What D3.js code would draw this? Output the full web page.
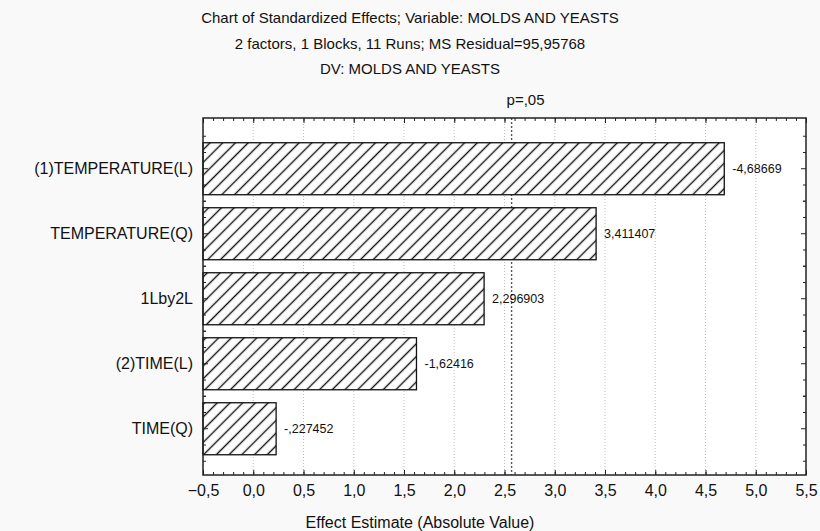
<!DOCTYPE html>
<html lang="en">
<head>
    <meta charset="UTF-8">
    <title>Chart of Standardized Effects</title>
    <style>
        body {
            margin: 0;
            padding: 0;
            background: #f9f9f9;
            font-family: "Liberation Sans", Arial, sans-serif;
        }
        svg { display: block; }
        .axis text { font-family: "Liberation Sans", Arial, sans-serif; fill: #111; }
        .axis path { display: none; }
        .axis line { stroke: #222; }
    </style>
</head>
<body>
    <div id="chart"></div>

    <script src="https://d3js.org/d3.v7.min.js"></script>
    <script>
        // Datos del grafico de Pareto
        const titleLines = [
            "Chart of Standardized Effects; Variable: MOLDS AND YEASTS",
            "2 factors, 1 Blocks, 11 Runs; MS Residual=95,95768",
            "DV: MOLDS AND YEASTS"
        ];
        const factors = ["(1)TEMPERATURE(L)", "TEMPERATURE(Q)", "1Lby2L", "(2)TIME(L)", "TIME(Q)"];
        const effects = [-4.68669, 3.411407, 2.296903, -1.62416, -0.227452];
        const effectLabels = ["-4,68669", "3,411407", "2,296903", "-1,62416", "-,227452"];
        const xTicks = [-0.5, 0, 0.5, 1, 1.5, 2, 2.5, 3, 3.5, 4, 4.5, 5, 5.5];
        const pCrit = 2.570582;
        const pLabel = "p=,05";
        const xTitle = "Effect Estimate (Absolute Value)";

        const W = 820, H = 531;
        const margin = { top: 118, right: 14, bottom: 56, left: 203 };
        const width = W - margin.left - margin.right;
        const height = H - margin.top - margin.bottom;

        const svg = d3.select("#chart")
            .append("svg")
            .attr("width", W)
            .attr("height", H);

        // hatch pattern
        svg.append("defs").append("pattern")
            .attr("id", "hatch")
            .attr("patternUnits", "userSpaceOnUse")
            .attr("width", 9)
            .attr("height", 9)
            .attr("patternTransform", "rotate(45)")
            .call(p => {
                p.append("rect").attr("width", 9).attr("height", 9).attr("fill", "#fff");
                p.append("line")
                    .attr("x1", 4.5).attr("y1", 0).attr("x2", 4.5).attr("y2", 9)
                    .attr("stroke", "#111").attr("stroke-width", 1.4);
            });

        // titulos
        svg.selectAll(".title")
            .data(titleLines)
            .enter()
            .append("text")
            .attr("class", "title")
            .attr("x", W / 2)
            .attr("y", (d, i) => 23 + i * 25.5)
            .attr("text-anchor", "middle")
            .style("font-size", "15px")
            .style("fill", "#111")
            .text(d => d);

        const g = svg.append("g")
            .attr("transform", `translate(${margin.left}, ${margin.top})`);

        const x = d3.scaleLinear()
            .domain([-0.5, 5.5])
            .range([0, width]);

        const y = d3.scaleBand()
            .domain(factors)
            .range([0, height])
            .paddingInner(0.2)
            .paddingOuter(0.346)
            .align(0.55);

        g.append("rect")
            .attr("width", width)
            .attr("height", height)
            .attr("fill", "#fff");

        // grid
        g.selectAll(".grid")
            .data(xTicks.slice(1, -1))
            .enter()
            .append("line")
            .attr("class", "grid")
            .attr("x1", d => x(d)).attr("x2", d => x(d))
            .attr("y1", 0).attr("y2", height)
            .attr("stroke", "#bdbdbd")
            .attr("stroke-dasharray", "1,2");

        // p line
        g.append("line")
            .attr("x1", x(pCrit)).attr("x2", x(pCrit))
            .attr("y1", 0).attr("y2", height)
            .attr("stroke", "#555")
            .attr("stroke-width", 1.4)
            .attr("stroke-dasharray", "2,2");

        svg.append("text")
            .attr("x", margin.left + x(pCrit) + 14)
            .attr("y", 105)
            .attr("text-anchor", "middle")
            .style("font-size", "15px")
            .style("fill", "#111")
            .text(pLabel);

        // barras
        const rows = factors.map((f, i) => ({ factor: f, value: effects[i], label: effectLabels[i] }));

        g.selectAll(".bar")
            .data(rows)
            .enter()
            .append("rect")
            .attr("class", "bar")
            .attr("x", x(-0.5))
            .attr("y", d => y(d.factor))
            .attr("width", d => x(Math.abs(d.value)) - x(-0.5))
            .attr("height", y.bandwidth())
            .attr("fill", "url(#hatch)")
            .attr("stroke", "#111")
            .attr("stroke-width", 1.3);

        g.selectAll(".vlabel")
            .data(rows)
            .enter()
            .append("text")
            .attr("class", "vlabel")
            .attr("x", d => x(Math.abs(d.value)) + 8)
            .attr("y", d => y(d.factor) + y.bandwidth() / 2)
            .attr("dy", "0.35em")
            .style("font-size", "12.5px")
            .style("fill", "#111")
            .text(d => d.label);

        // ejes
        const fmt = d => d3.format(".1f")(d).replace(".", ",");
        const minorX = d3.range(-5, 56).map(v => v / 10);

        g.append("g")
            .attr("class", "axis")
            .attr("transform", `translate(0, ${height})`)
            .call(d3.axisBottom(x).tickValues(minorX).tickSize(-3).tickFormat(""));

        g.append("g")
            .attr("class", "axis")
            .attr("transform", `translate(0, ${height})`)
            .call(d3.axisBottom(x).tickValues(xTicks).tickSizeInner(-5).tickSizeOuter(0).tickPadding(10).tickFormat(fmt))
            .selectAll("text")
            .style("font-size", "16px");

        g.append("g")
            .attr("class", "axis")
            .call(d3.axisTop(x).tickValues(minorX).tickSize(-3).tickFormat(""));

        g.append("g")
            .attr("class", "axis")
            .call(d3.axisTop(x).tickValues(xTicks).tickSize(-5).tickFormat(""));

        g.append("g")
            .attr("class", "axis")
            .call(d3.axisLeft(y).tickSize(0).tickPadding(10))
            .selectAll("text")
            .style("font-size", "16px");

        // marcas menores en el eje de categorias
        const step = y.step();
        const minorY = [];
        factors.forEach(f => {
            const c = y(f) + y.bandwidth() / 2;
            [-2, -1, 0, 1, 2].forEach(k => minorY.push({ pos: c + k * step / 4, major: k === 0 }));
        });

        g.selectAll(".ytick")
            .data(minorY)
            .enter()
            .append("line")
            .attr("x1", 0).attr("x2", d => d.major ? 5 : 3)
            .attr("y1", d => d.pos).attr("y2", d => d.pos)
            .attr("stroke", "#222");

        g.selectAll(".ytick2")
            .data(minorY)
            .enter()
            .append("line")
            .attr("x1", width).attr("x2", d => width - (d.major ? 5 : 3))
            .attr("y1", d => d.pos).attr("y2", d => d.pos)
            .attr("stroke", "#222");

        // marco
        g.append("rect")
            .attr("width", width)
            .attr("height", height)
            .attr("fill", "none")
            .attr("stroke", "#222")
            .attr("stroke-width", 1.5);

        svg.append("text")
            .attr("x", 420)
            .attr("y", H - 3)
            .attr("text-anchor", "middle")
            .style("font-size", "16px")
            .style("fill", "#111")
            .text(xTitle);
    </script>
</body>
</html>
